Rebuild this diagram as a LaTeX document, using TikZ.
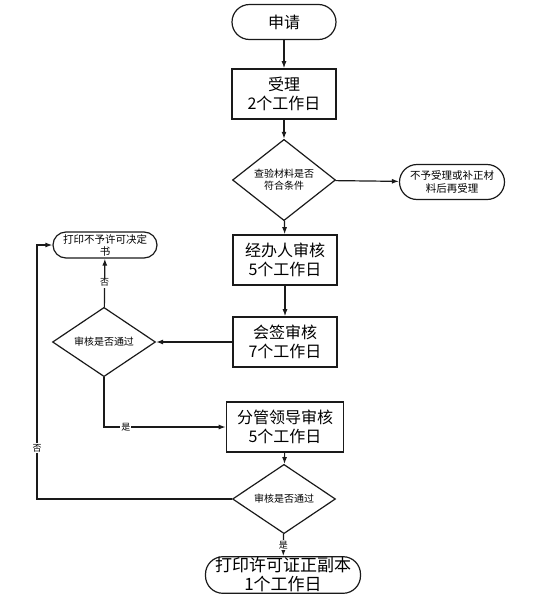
\documentclass[tikz,border=0pt]{standalone}
\usepackage{fontspec}
\usepackage{tikz}
\usetikzlibrary{arrows.meta,shapes.geometric}
\newfontfamily\cjk{Noto Sans CJK SC}
\definecolor{FlowInk}{HTML}{1A1A1A}

\begin{document}
\begin{tikzpicture}[x=1pt,y=-1pt,
  startstop/.style={draw=FlowInk, line width=1.2pt, rounded corners=17.5pt,
    minimum width=104pt, minimum height=35pt, inner sep=1pt, align=center,
    font=\cjk\fontsize{16}{19}\selectfont},
  stepbox/.style={draw=FlowInk, line width=1.6pt, minimum width=104pt,
    minimum height=50pt, inner sep=2pt, align=center,
    font=\cjk\fontsize{16}{19}\selectfont},
  check/.style={draw=FlowInk, diamond, line width=1.2pt, minimum width=103pt,
    minimum height=54pt, inner sep=0pt, align=center,
    font=\cjk\fontsize{10}{12}\selectfont},
  flow/.style={draw=FlowInk, line width=1.2pt, -{Latex[length=7pt,width=5pt]}},
  tag/.style={font=\cjk\fontsize{9}{10}\selectfont, fill=white, inner sep=1pt}
]
  \useasboundingbox (0,0) rectangle (535,600);

  % main column
  \node[startstop] (apply) at (284,22) {申请};
  \node[stepbox] (accept) at (284,94) {受理\\2个工作日};
  \node[check] (check1) at (284,180) {查验材料是否\\符合条件};
  \node[startstop, minimum width=105pt, font=\cjk\fontsize{10.5}{13}\selectfont]
    (reject) at (452,182) {不予受理或补正材\\料后再受理};
  \node[stepbox] (handle) at (285,260) {经办人审核\\5个工作日};
  \node[stepbox] (cosign) at (285,342) {会签审核\\7个工作日};
  \node[check] (check2) at (104,342) {审核是否通过};
  \node[startstop, minimum height=26pt, rounded corners=13pt,
    font=\cjk\fontsize{10.5}{12}\selectfont]
    (refuse) at (105,245) {打印不予许可决定\\书};
  \node[stepbox, minimum width=117pt] (lead) at (285,427) {分管领导审核\\5个工作日};
  \node[check, minimum height=48pt] (check3) at (284,499) {审核是否通过};
  \node[startstop, minimum width=155pt, font=\cjk\fontsize{17}{19}\selectfont]
    (permit) at (283,575) {打印许可证正副本\\1个工作日};
  \coordinate (leftrail) at (37,499);

  % connectors
  \draw[flow] (apply) -- (accept);
  \draw[flow] (accept) -- (check1);
  \draw[flow] (check1) -- (reject);
  \draw[flow] (check1) -- (handle);
  \draw[flow] (handle) -- (cosign);
  \draw[flow] (cosign) -- (check2);
  \draw[flow] (check2) -- node[tag] {否} (refuse);
  \draw[flow] (check2.south) |- node[tag, pos=0.59] {是} (lead.west);
  \draw[flow] (lead) -- (check3);
  \draw[flow] (check3.west) -- (leftrail) |- node[tag, pos=0.1] {否} (refuse.west);
  \draw[flow] (check3) -- node[tag] {是} (permit);
\end{tikzpicture}
\end{document}
